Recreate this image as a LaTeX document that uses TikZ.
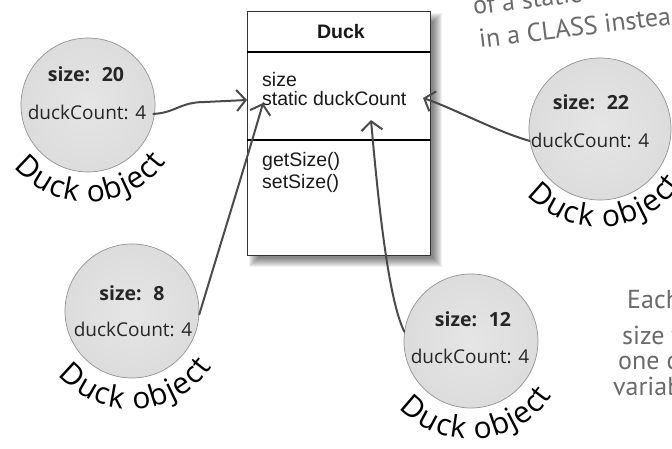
\documentclass[tikz,border=0pt]{standalone}
\usepackage{fontspec}
\setmainfont{Liberation Sans}
\newfontfamily\handfont{Open Sans}
\newfontfamily\notefont{PT Sans}
\usetikzlibrary{arrows.meta,decorations.text}
\definecolor{arrowgray}{HTML}{4A4A4A}
\definecolor{notegray}{HTML}{6A6A6A}
\definecolor{boxline}{HTML}{333333}
\pgfdeclareradialshading{duckball}{\pgfpoint{0bp}{0bp}}{color(0bp)=(gray!20); color(24bp)=(gray!27); color(38bp)=(gray!40); color(46bp)=(gray!60); color(50bp)=(gray!80)}
\tikzset{
  umltext/.style={font=\fontsize{19.5}{20}\selectfont, anchor=base west, inner sep=0pt, text=black!90},
  duckball/.style={circle, shading=duckball, draw=gray!85, line width=0.7pt, inner sep=0pt, minimum size=#1},
  sizetxt/.style={font=\handfont\bfseries\fontsize{19.5}{20}\selectfont, anchor=base, inner sep=0pt, text=black!85},
  counttxt/.style={font=\handfont\fontsize{19}{20}\selectfont, anchor=base, inner sep=1pt, text=black!85},
  objlabel/.style={decorate, decoration={text along path, text align={fit to path},
      text={|\handfont\fontsize{30}{30}\selectfont|Duck object}}},
  ref/.style={draw=arrowgray, line width=2pt, line cap=round, line join=round,
      -{Straight Barb[length=9pt,width=21pt]}},
  note/.style={font=\notefont\fontsize{26}{26}\selectfont, text=notegray, inner sep=0pt, anchor=base west}
}
\begin{document}
\begin{tikzpicture}[x=1pt,y=1pt]
\useasboundingbox (0,0) rectangle (672,449);
\clip (0,0) rectangle (672,449);
\fill[white] (0,0) rectangle (672,449);

% ---------- class box ----------
\node[minimum width=183pt, minimum height=244pt, anchor=north west, inner sep=0pt] (box) at (247,438) {};
\foreach \e in {-4,...,5}{%
  \pgfmathsetmacro\sxa{7-\e}\pgfmathsetmacro\sxb{7+\e}%
  \pgfmathsetmacro\sya{-7-\e}\pgfmathsetmacro\syb{-7+\e}%
  \fill[black,opacity=0.06] ([shift={(\sxa,\sya)}]box.south west) rectangle ([shift={(\sxb,\syb)}]box.north east);
}
\draw[boxline, line width=0.9pt, fill=white] (box.south west) rectangle (box.north east);
\coordinate (sepA) at (247,397);
\coordinate (sepB) at (247,309);
\draw[line width=1.6pt] (sepA) -- (sepA -| box.east);
\draw[line width=1.6pt] (sepB) -- (sepB -| box.east);
\node[umltext, anchor=base, font=\bfseries\fontsize{19.5}{20}\selectfont] (title) at (341,410) {Duck};
\node[umltext] (fsize) at (262,362) {size};
\node[umltext] (fcount) at (262,343) {static duckCount};
\node[umltext] (mget) at (262,282) {getSize()};
\node[umltext] (mset) at (262,260) {setSize()};

% ---------- objects ----------
\node[duckball=134pt] (c1) at (88,344) {};
\node[duckball=142pt] (c2) at (600,320) {};
\node[duckball=134pt] (c3) at (132,138) {};
\node[duckball=134pt] (c4) at (471,108) {};

\node[sizetxt] (s1) at (86,367) {size:\hspace{0.6em}20};
\node[counttxt] (d1) at (87,329) {duckCount: 4};
\node[sizetxt] (s2) at (591,339) {size:\hspace{0.6em}22};
\node[counttxt] (d2) at (590,301) {duckCount: 4};
\node[sizetxt] (s3) at (132,148) {size:\hspace{0.6em}8};
\node[counttxt] (d3) at (133,112) {duckCount: 4};
\node[sizetxt] (s4) at (473,122) {size:\hspace{0.6em}12};
\node[counttxt] (d4) at (470,85) {duckCount: 4};

\path[objlabel] ([shift={(220:97)}]c1.center) arc[start angle=220, end angle=324, radius=97];
\path[objlabel] ([shift={(222:98)}]c2.center) arc[start angle=222, end angle=326, radius=98];
\path[objlabel] ([shift={(221:98)}]c3.center) arc[start angle=221, end angle=325, radius=98];
\path[objlabel] ([shift={(223:98)}]c4.center) arc[start angle=223, end angle=326, radius=98];

% ---------- references ----------
\coordinate (tipA) at (247,349);
\coordinate (tipB) at (263,346);
\coordinate (tipC) at (371,329);
\coordinate (tipD) at (423,351);
\draw[ref] ([xshift=6pt,yshift=-1pt]d1.east) .. controls (175,336) and (180,347) .. (205,347) -- (tipA);
\draw[ref] (c3.-3) .. controls (222,210) and (250,300) .. (tipB);
\draw[ref] (c4.172) .. controls (388,150) and (378,250) .. (tipC);
\draw[ref] (d2.west) .. controls (495,318) and (455,340) .. (tipD);

% ---------- notes ----------
\node[note, rotate=7] (n1) at (474,434) {of a static variable as living};
\node[note, rotate=7] (n2) at (480,401) {in a CLASS instead of in an object};
\node[note] (n3) at (627,140) {Each Duck object has its own};
\node[note] (n4) at (622,104) {size variable, but there's only};
\node[note] (n5) at (618,79) {one copy of the duckCount};
\node[note] (n6) at (613,53) {variable—the one in the class.};
\end{tikzpicture}
\end{document}
